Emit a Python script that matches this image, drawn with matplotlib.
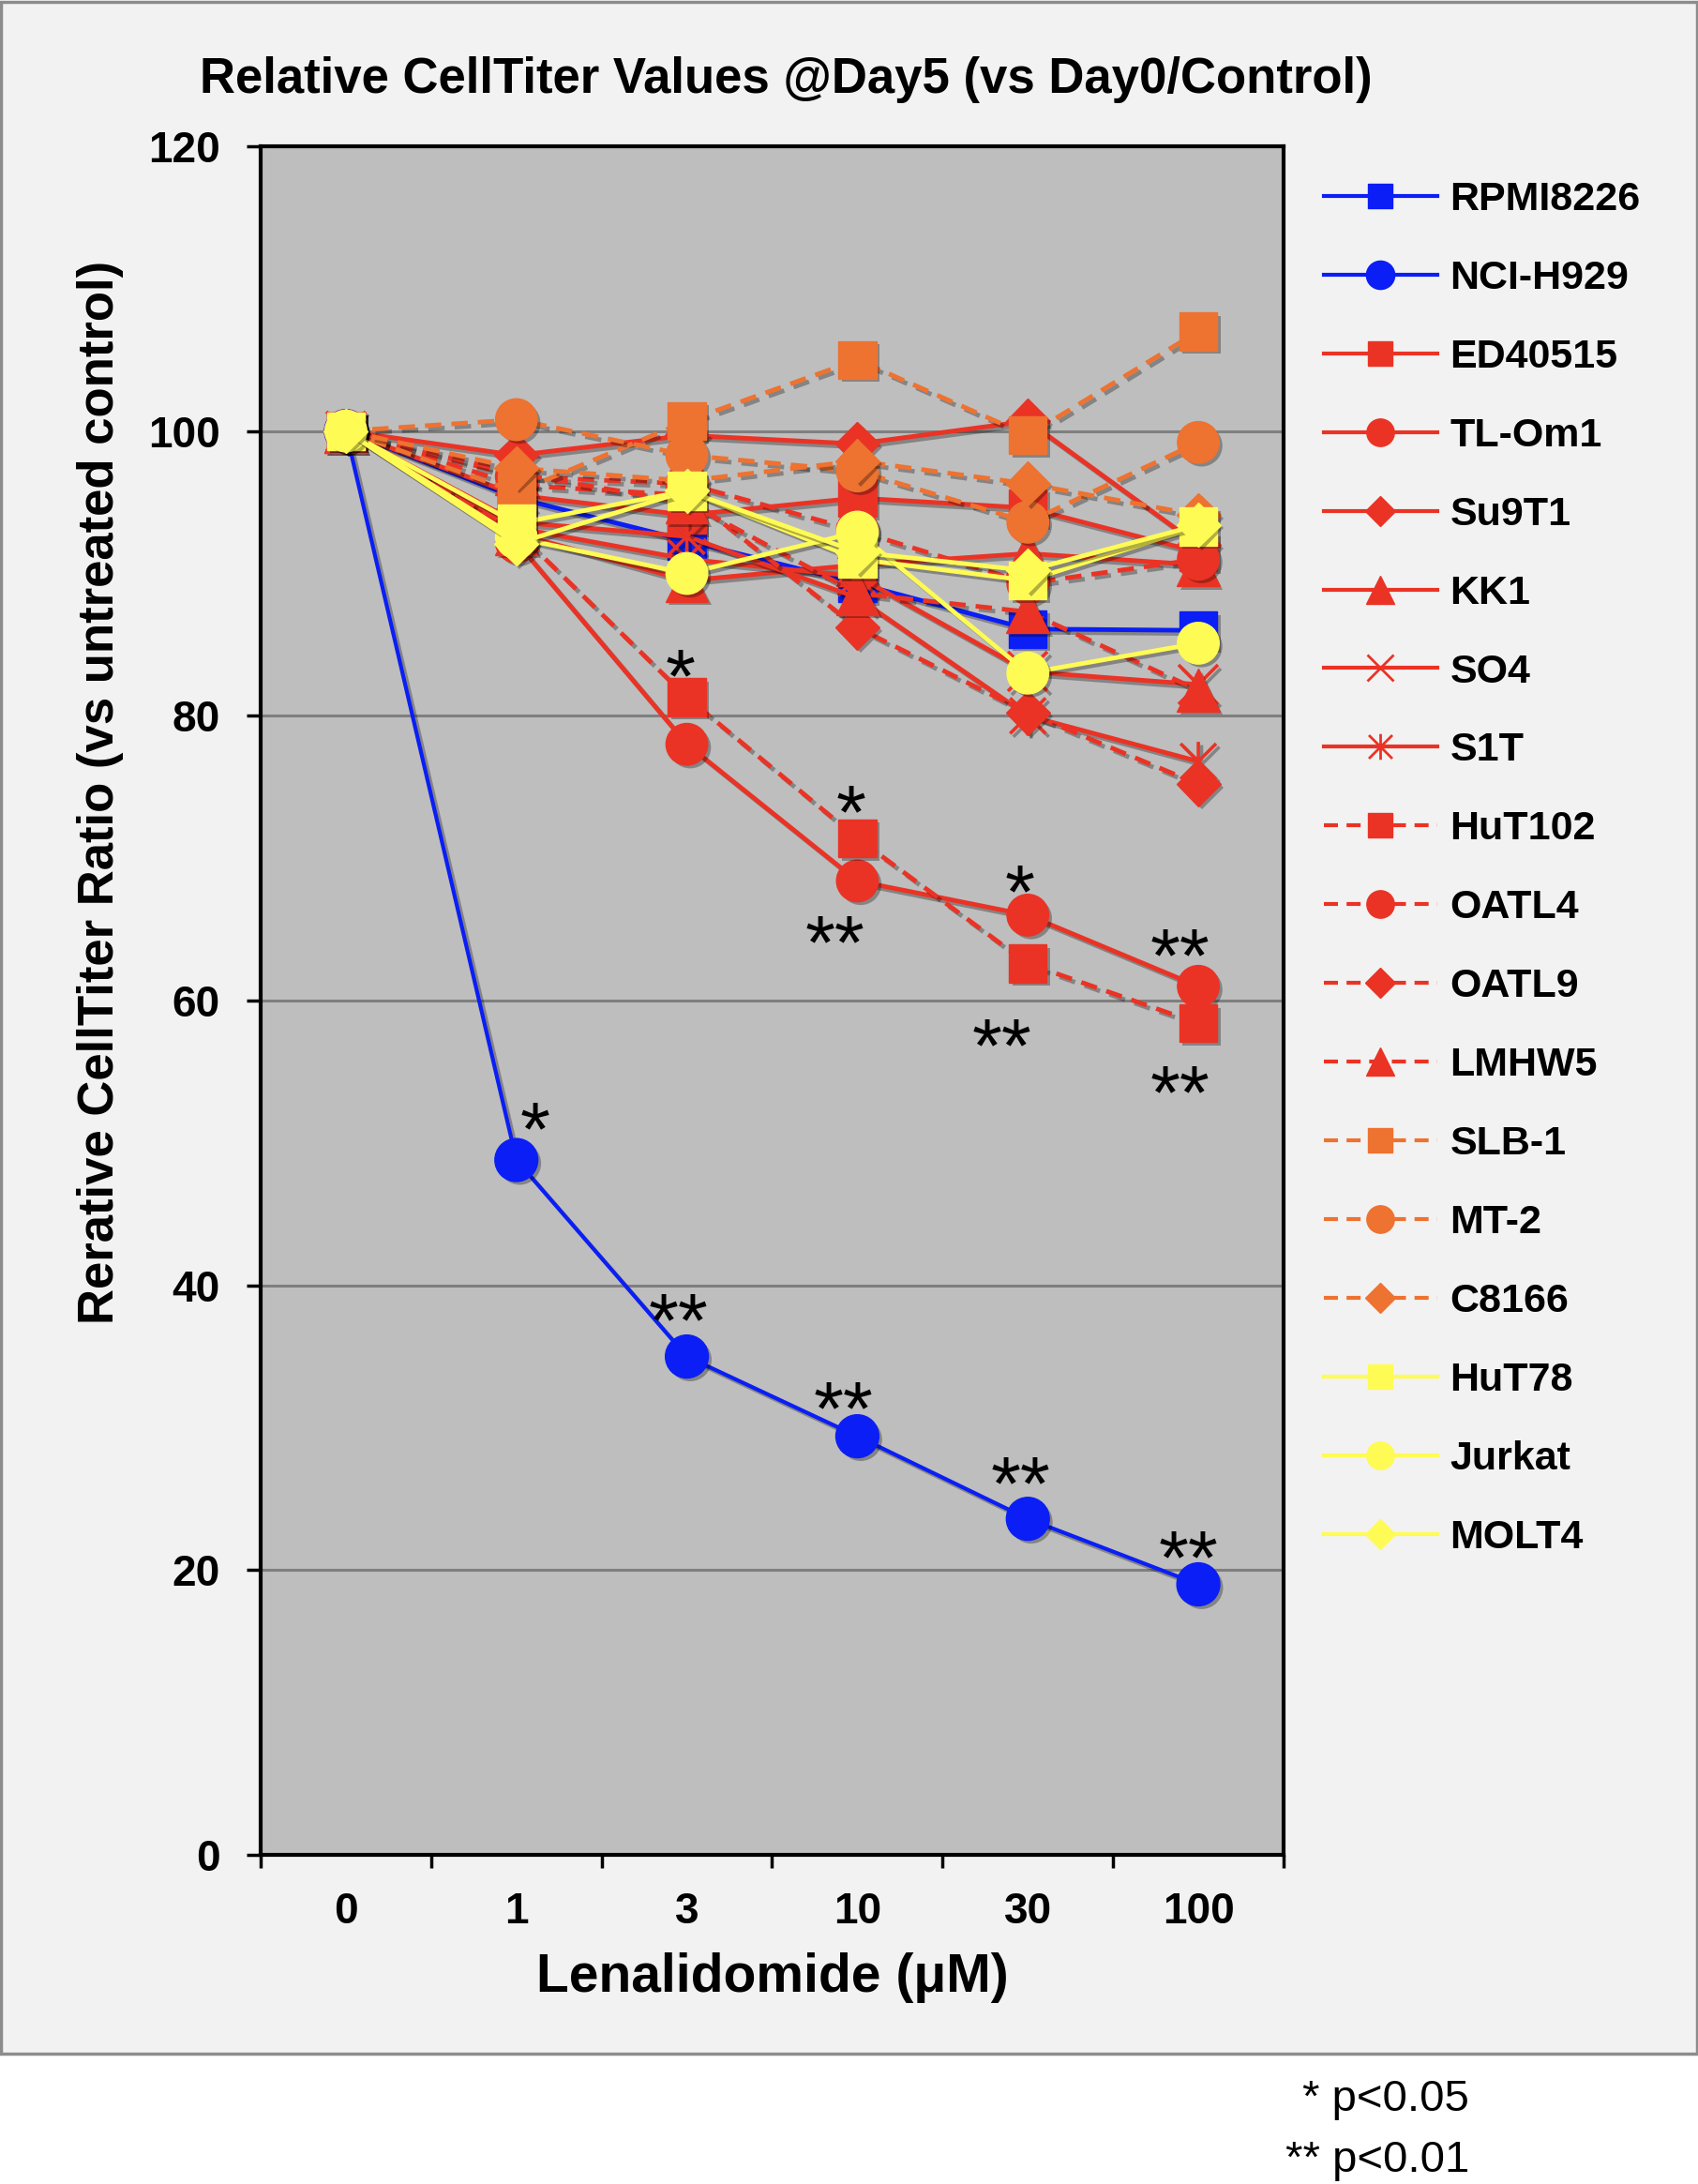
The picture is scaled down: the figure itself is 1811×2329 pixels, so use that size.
import numpy as np
import matplotlib
matplotlib.use("Agg")
import matplotlib.pyplot as plt
import matplotlib.patheffects as pe
import matplotlib.transforms as mtransforms
from matplotlib.lines import Line2D
from matplotlib.path import Path
from matplotlib.patches import Rectangle

plt.rcParams['font.family'] = ['Liberation Sans', 'DejaVu Sans']

# ---------------- data ----------------
doses = ['0', '1', '3', '10', '30', '100']

RPMI8226 = [100, 95.3, 92.3, 89.3, 86.1, 86.0]
NCI_H929 = [100, 48.8, 35.0, 29.4, 23.6, 19.0]
ED40515 = [100, 95.5, 94.1, 95.3, 94.6, 91.5]
TL_Om1 = [100, 92.2, 78.0, 68.4, 66.0, 61.0]
Su9T1 = [100, 98.3, 99.7, 99.1, 100.7, 92.0]
KK1 = [100, 92.8, 89.5, 90.6, 91.4, 90.6]
SO4 = [100, 93.2, 91.0, 89.8, 83.1, 82.2]
S1T = [100, 93.6, 92.6, 88.3, 80.0, 76.8]
HuT102 = [100, 93.0, 81.3, 71.4, 62.6, 58.4]
OATL4 = [100, 96.8, 96.3, 93.0, 89.3, 91.0]
OATL9 = [100, 96.2, 95.5, 86.2, 80.2, 75.2]
LMHW5 = [100, 97.0, 95.0, 88.6, 87.3, 81.8]
SLB_1 = [100, 95.7, 100.7, 105.0, 99.7, 107.0]
MT_2 = [100, 100.8, 98.3, 97.2, 93.6, 99.2]
C8166 = [100, 97.4, 96.5, 97.9, 96.3, 94.1]
HuT78 = [100, 93.5, 95.8, 91.0, 89.5, 93.3]
Jurkat = [100, 92.5, 90.0, 92.9, 83.0, 85.1]
MOLT4 = [100, 92.1, 95.8, 91.5, 90.2, 93.4]

series_names = ['RPMI8226', 'NCI-H929', 'ED40515', 'TL-Om1', 'Su9T1', 'KK1', 'SO4', 'S1T',
                'HuT102', 'OATL4', 'OATL9', 'LMHW5', 'SLB-1', 'MT-2', 'C8166',
                'HuT78', 'Jurkat', 'MOLT4']
series_values = [RPMI8226, NCI_H929, ED40515, TL_Om1, Su9T1, KK1, SO4, S1T,
                 HuT102, OATL4, OATL9, LMHW5, SLB_1, MT_2, C8166,
                 HuT78, Jurkat, MOLT4]

# significance marks: (label, dose index, value at glyph centre)
sig_labels = ['*', '**', '**', '**', '**', '*', '*', '**', '*', '**', '**', '**']
sig_x = [1.11, 1.95, 2.92, 3.96, 4.94, 1.96, 2.96, 2.87, 3.95, 3.85, 4.89, 4.89]
sig_y = [52.3, 38.9, 32.7, 27.4, 22.2, 84.1, 74.6, 65.4, 69.0, 58.2, 64.5, 54.9]

# ---------------- styles ----------------
BLUE = '#0A1EF5'
RED = '#EA3325'
ORANGE = '#EE7230'
YELLOW = '#FFFB55'

asterisk = Path([(-0.5, -0.5), (0.5, 0.5), (-0.5, 0.5), (0.5, -0.5), (0, -0.55), (0, 0.55)],
                [Path.MOVETO, Path.LINETO, Path.MOVETO, Path.LINETO, Path.MOVETO, Path.LINETO])

LW = 3.5
styles = [
    (BLUE, '-', 's', 29, LW),
    (BLUE, '-', 'o', 33, 3.0),
    (RED, '-', 's', 29, LW),
    (RED, '-', 'o', 32, LW),
    (RED, '-', 'D', 24, LW),
    (RED, '-', '^', 33, LW),
    (RED, '-', 'x', 30, LW),
    (RED, '-', asterisk, 30, LW),
    (RED, '--', 's', 29, LW),
    (RED, '--', 'o', 32, LW),
    (RED, '--', 'D', 24, LW),
    (RED, '--', '^', 33, LW),
    (ORANGE, '--', 's', 29, LW),
    (ORANGE, '--', 'o', 32, LW),
    (ORANGE, '--', 'D', 24, LW),
    (YELLOW, '-', 's', 29, LW),
    (YELLOW, '-', 'o', 32, LW),
    (YELLOW, '-', 'D', 24, LW),
]

W, H = 1811, 2329
fig = plt.figure(figsize=(W / 100, H / 100), dpi=100, facecolor='white')

# outer chart frame
frame = Rectangle((0.0008, 1 - 2190 / H), 0.9984, 2188 / H, transform=fig.transFigure,
                  facecolor='#F2F2F2', edgecolor='#8C8C8C', linewidth=2.5, zorder=-10)
fig.patches.append(frame)

ax = fig.add_axes([278 / W, 1 - 1978 / H, (1369 - 278) / W, (1978 - 156) / H])
ax.set_facecolor('#BEBEBE')
ax.set_xlim(-0.5, 5.5)
ax.set_ylim(0, 120)

for yv in range(20, 120, 20):
    ax.axhline(yv, color='#7F7F7F', lw=2.2, zorder=1)

x = np.arange(len(doses))
line_shadow = [pe.SimpleLineShadow(offset=(2.5, -2.5), shadow_color='black', alpha=0.3), pe.Normal()]
patch_shadow = [pe.SimplePatchShadow(offset=(2.5, -2.5), shadow_rgbFace='black', alpha=0.3), pe.Normal()]

handles = []
for i, (name, vals) in enumerate(zip(series_names, series_values)):
    color, ls, mk, ms, lw = styles[i]
    dash_kw = {'dashes': (3.6, 2.2)} if ls == '--' else {}
    ax.plot(x, vals, color=color, lw=lw, linestyle=ls, zorder=3 + 2 * i,
            path_effects=line_shadow, solid_capstyle='butt', **dash_kw)
    unfilled = (mk == 'x') or (mk is asterisk)
    if unfilled:
        ax.plot(x, vals, linestyle='none', marker=mk, ms=ms, mec=color, mfc='none',
                mew=2.6, zorder=4 + 2 * i, path_effects=line_shadow)
    else:
        ax.plot(x, vals, linestyle='none', marker=mk, ms=ms, mec=color, mfc=color,
                mew=1, zorder=4 + 2 * i, path_effects=patch_shadow)
    handles.append(Line2D([], [], color=color, lw=3, linestyle=ls, marker=mk,
                          ms=ms * 0.66, mec=color, mfc='none' if unfilled else color,
                          mew=2 if unfilled else 1, **dash_kw))

SIG_FS = 59
sig_trans = mtransforms.offset_copy(ax.transData, fig=fig, y=-0.58 * SIG_FS, units='points')
for lab, sx, sy in zip(sig_labels, sig_x, sig_y):
    ax.text(sx, sy, lab, ha='center', va='baseline', fontsize=SIG_FS, color='black',
            zorder=60, transform=sig_trans)

# axes styling
for sp in ax.spines.values():
    sp.set_linewidth(3)
    sp.set_color('black')
    sp.set_zorder(70)

ax.set_yticks(range(0, 121, 20))
ax.tick_params(axis='y', direction='out', length=11, width=2.5, pad=20,
               labelsize=33)
for t in ax.get_yticklabels():
    t.set_fontweight('bold')

ax.set_xticks(x)
ax.set_xticklabels(doses, fontsize=33, fontweight='bold')
ax.tick_params(axis='x', which='major', length=0, pad=28)
ax.set_xticks(np.arange(-0.5, 6, 1), minor=True)
ax.tick_params(axis='x', which='minor', direction='out', length=10, width=2.5)

fig.text(838 / W, 1 - 85 / H, 'Relative CellTiter Values @Day5 (vs Day0/Control)',
         ha='center', va='center', fontsize=38, fontweight='bold')
fig.text(107 / W, 1 - 845 / H, 'Rerative CellTiter Ratio (vs untreated control)',
         ha='center', va='center', rotation=90, fontsize=38, fontweight='bold')
fig.text(824 / W, 1 - 2109 / H, 'Lenalidomide (\u03bcM)',
         ha='center', va='center', fontsize=41, fontweight='bold')

fig.legend(handles, series_names, loc='upper left', bbox_to_anchor=(1412 / W, 1 - 193 / H),
           frameon=False, prop={'size': 31, 'weight': 'bold'}, handlelength=2.8,
           handletextpad=0.32, labelspacing=1.02, borderpad=0, borderaxespad=0)

fig.text(1567 / W, 1 - 2239 / H, '* p<0.05', ha='right', va='center', fontsize=34)
fig.text(1567 / W, 1 - 2304 / H, '** p<0.01', ha='right', va='center', fontsize=34)

fig.savefig('out.png', dpi=100, facecolor='white')
